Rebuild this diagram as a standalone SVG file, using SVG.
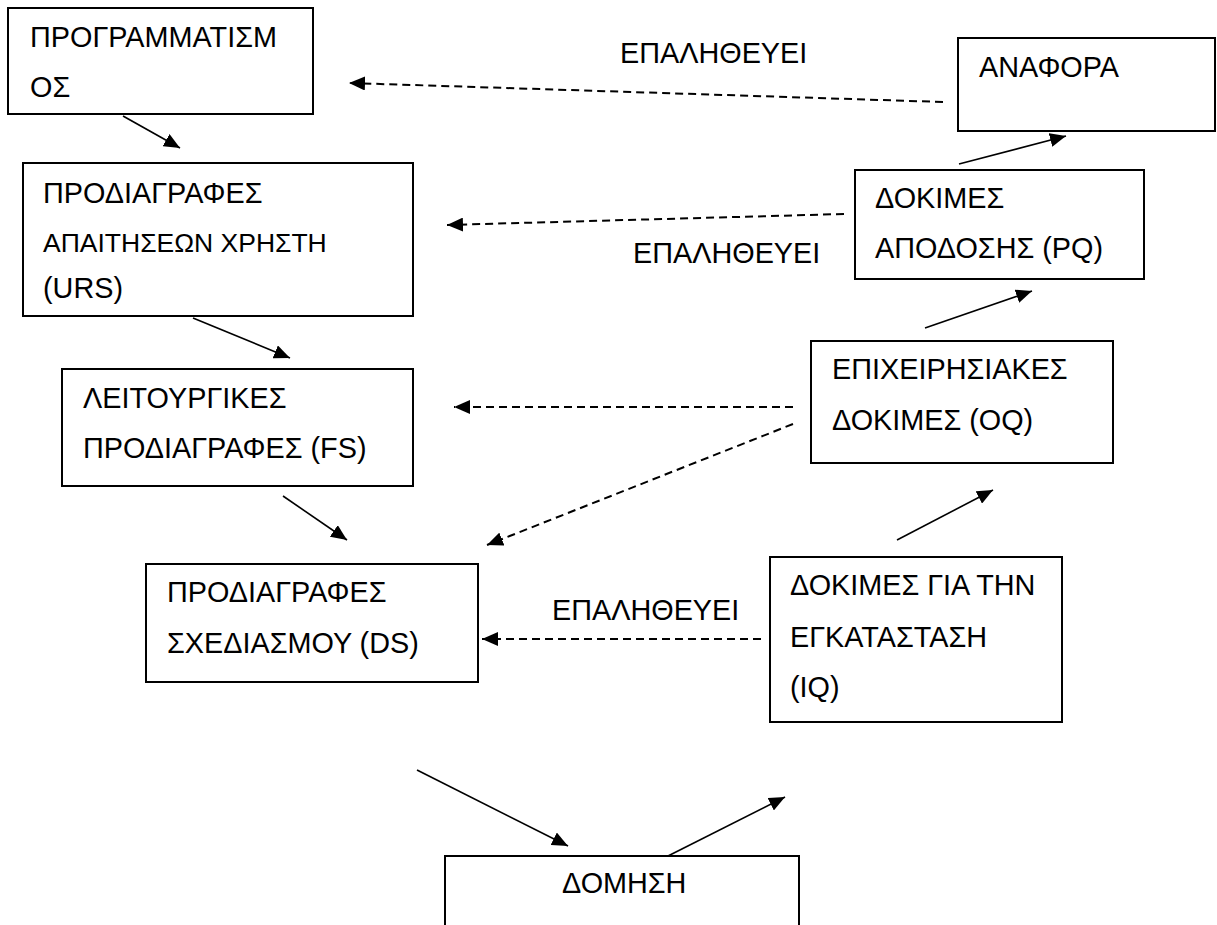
<svg xmlns="http://www.w3.org/2000/svg" width="1217" height="925" viewBox="0 0 1217 925">
  <style>
    .box { fill: #ffffff; stroke: #000000; stroke-width: 2; }
    .txt { font-family: "Liberation Sans", Arial, sans-serif; font-size: 28.8px; fill: #000000; }
    .flow { stroke: #000000; stroke-width: 1.6; fill: none; marker-end: url(#head); }
    .verify { stroke: #000000; stroke-width: 2; fill: none; stroke-dasharray: 8 5; marker-end: url(#head); }
  </style>
  <defs>
    <marker id="head" viewBox="0 0 16 14" refX="16" refY="7" markerWidth="16" markerHeight="14" markerUnits="userSpaceOnUse" orient="auto">
      <path d="M0,0 L16,7 L0,14 z" fill="#000000"/>
    </marker>
  </defs>

  <rect width="1217" height="925" fill="#ffffff"/>

  <!-- connectors -->
  <g id="connectors">
    <!-- development chain (left side, downward) -->
    <line class="flow" x1="123" y1="116" x2="180" y2="148"/>
    <line class="flow" x1="193" y1="318" x2="290" y2="358"/>
    <line class="flow" x1="283" y1="496" x2="347" y2="540"/>
    <line class="flow" x1="417" y1="770" x2="568" y2="846"/>
    <!-- qualification chain (right side, upward) -->
    <line class="flow" x1="666" y1="857" x2="785" y2="797"/>
    <line class="flow" x1="897" y1="540" x2="993" y2="490"/>
    <line class="flow" x1="925" y1="328" x2="1032" y2="291"/>
    <line class="flow" x1="959" y1="164" x2="1066" y2="136"/>
    <!-- verification links -->
    <line class="verify" x1="943" y1="102" x2="349" y2="83"/>
    <line class="verify" x1="844" y1="214" x2="447" y2="225"/>
    <line class="verify" x1="793" y1="407" x2="454" y2="407" stroke-dasharray="7 5"/>
    <line class="verify" x1="793" y1="424" x2="487" y2="545" stroke-dasharray="7 5"/>
    <line class="verify" x1="761" y1="639" x2="482" y2="639" stroke-dasharray="7 5"/>
    <text class="txt" x="620" y="63">ΕΠΑΛΗΘΕΥΕΙ</text>
    <text class="txt" x="633" y="263">ΕΠΑΛΗΘΕΥΕΙ</text>
    <text class="txt" x="552" y="620">ΕΠΑΛΗΘΕΥΕΙ</text>
  </g>

  <g id="programmatismos">
    <rect class="box" x="8" y="8" width="305" height="106"/>
    <text class="txt" x="30" y="47">ΠΡΟΓΡΑΜΜΑΤΙΣΜ</text>
    <text class="txt" x="30" y="97">ΟΣ</text>
  </g>

  <g id="urs">
    <rect class="box" x="23" y="163" width="390" height="153"/>
    <text class="txt" x="43" y="203">ΠΡΟΔΙΑΓΡΑΦΕΣ</text>
    <text class="txt" x="43" y="252" style="font-size:26.5px">ΑΠΑΙΤΗΣΕΩΝ ΧΡΗΣΤΗ</text>
    <text class="txt" x="43" y="298">(URS)</text>
  </g>

  <g id="fs">
    <rect class="box" x="62" y="369" width="351" height="117"/>
    <text class="txt" x="83" y="408">ΛΕΙΤΟΥΡΓΙΚΕΣ</text>
    <text class="txt" x="83" y="458">ΠΡΟΔΙΑΓΡΑΦΕΣ (FS)</text>
  </g>

  <g id="ds">
    <rect class="box" x="146" y="564" width="332" height="118"/>
    <text class="txt" x="167" y="602">ΠΡΟΔΙΑΓΡΑΦΕΣ</text>
    <text class="txt" x="167" y="653">ΣΧΕΔΙΑΣΜΟΥ (DS)</text>
  </g>

  <g id="domisi">
    <rect class="box" x="445" y="856" width="354" height="90"/>
    <text class="txt" x="562" y="893">ΔΟΜΗΣΗ</text>
  </g>

  <g id="iq">
    <rect class="box" x="770" y="557" width="292" height="165"/>
    <text class="txt" x="790" y="595">ΔΟΚΙΜΕΣ ΓΙΑ ΤΗΝ</text>
    <text class="txt" x="790" y="647">ΕΓΚΑΤΑΣΤΑΣΗ</text>
    <text class="txt" x="790" y="697">(IQ)</text>
  </g>

  <g id="oq">
    <rect class="box" x="811" y="341" width="302" height="122"/>
    <text class="txt" x="832" y="379">ΕΠΙΧΕΙΡΗΣΙΑΚΕΣ</text>
    <text class="txt" x="832" y="430">ΔΟΚΙΜΕΣ (OQ)</text>
  </g>

  <g id="pq">
    <rect class="box" x="855" y="170" width="289" height="109"/>
    <text class="txt" x="875" y="208">ΔΟΚΙΜΕΣ</text>
    <text class="txt" x="875" y="258">ΑΠΟΔΟΣΗΣ (PQ)</text>
  </g>

  <g id="anafora">
    <rect class="box" x="958" y="38" width="257" height="93"/>
    <text class="txt" x="979" y="77">ΑΝΑΦΟΡΑ</text>
  </g>
</svg>
